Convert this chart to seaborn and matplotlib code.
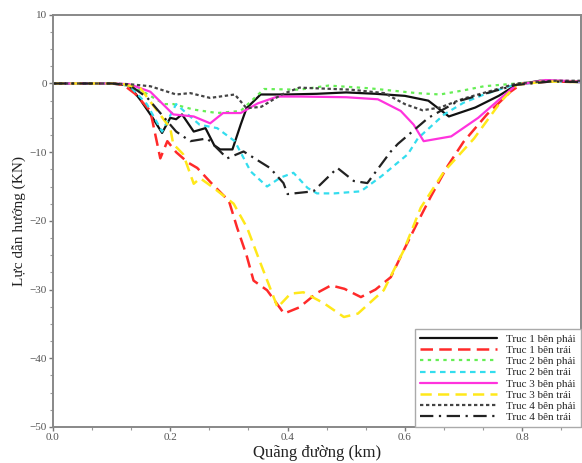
import matplotlib
matplotlib.use("Agg")
import matplotlib.pyplot as plt
import numpy as np
import pandas as pd
import seaborn as sns
from matplotlib.ticker import MultipleLocator

# Truc 1 ben phai (black solid)
x1 = [0, 0.05, 0.10, 0.13, 0.15, 0.17, 0.186, 0.20, 0.21, 0.22, 0.24, 0.26, 0.275, 0.285, 0.306,
      0.32, 0.33, 0.354, 0.40, 0.45, 0.50, 0.55, 0.60, 0.64, 0.675, 0.72, 0.76, 0.79, 0.83, 0.87, 0.9]
y1 = [0, 0, 0, -0.3, -2.5, -5, -7.2, -5, -5.2, -4.5, -7, -6.5, -9, -9.6, -9.6,
      -6, -3.6, -1.6, -1.6, -1.5, -1.3, -1.5, -1.8, -2.5, -4.8, -3.5, -1.8, -0.2, 0.4, 0.3, 0.3]
# Truc 1 ben trai (red dashed)
x2 = [0, 0.05, 0.10, 0.12, 0.14, 0.166, 0.183, 0.195, 0.21, 0.23, 0.246, 0.27, 0.30, 0.314, 0.33,
      0.342, 0.365, 0.394, 0.42, 0.45, 0.474, 0.497, 0.525, 0.55, 0.576, 0.598, 0.62, 0.644, 0.673,
      0.70, 0.74, 0.78, 0.80, 0.85, 0.9]
y2 = [0, 0, 0, -0.2, -1.5, -4, -10.9, -8.4, -10, -11.5, -12.3, -14.5, -17.1, -21, -25,
      -28.7, -30.1, -33.5, -32.6, -30.5, -29.4, -29.9, -31.1, -30, -28.2, -24.3, -20.5, -16.5, -12,
      -8.5, -4.5, -1.2, 0, 0.3, 0.2]
# Truc 2 ben phai (green dotted)
x3 = [0, 0.10, 0.13, 0.16, 0.19, 0.205, 0.24, 0.28, 0.32, 0.36, 0.42, 0.47, 0.54, 0.62, 0.66,
      0.70, 0.735, 0.79, 0.85, 0.9]
y3 = [0, 0, -0.2, -1.5, -3, -3, -3.8, -4.3, -4, -0.8, -0.9, -0.3, -0.7, -1.4, -1.6,
      -1.0, -0.4, 0, 0.4, 0.3]
# Truc 2 ben trai (cyan)
x4 = [0, 0.10, 0.13, 0.16, 0.186, 0.21, 0.25, 0.28, 0.31, 0.337, 0.365, 0.388, 0.41, 0.434, 0.45,
      0.48, 0.51, 0.525, 0.56, 0.605, 0.622, 0.667, 0.70, 0.735, 0.786, 0.84, 0.9]
y4 = [0, 0, -0.3, -3, -7, -3, -6, -6.5, -8.4, -12.8, -15, -13.7, -13, -15.2, -16,
      -16, -15.8, -15.7, -13.5, -10.3, -8, -4.5, -2.8, -1.6, -0.2, 0.3, 0.2]
# Truc 3 ben phai (magenta solid)
x5 = [0, 0.10, 0.13, 0.166, 0.205, 0.24, 0.268, 0.29, 0.32, 0.349, 0.383, 0.422, 0.50, 0.554,
      0.593, 0.615, 0.632, 0.679, 0.725, 0.764, 0.79, 0.84, 0.9]
y5 = [0, 0, -0.1, -1.2, -4.5, -4.8, -5.8, -4.3, -4.3, -2.9, -1.9, -1.9, -2.0, -2.3,
      -4, -6, -8.4, -7.7, -5, -2.1, -0.2, 0.5, 0.3]
# Truc 3 ben trai (yellow dashed)
x6 = [0, 0.10, 0.12, 0.149, 0.178, 0.20, 0.205, 0.222, 0.24, 0.251, 0.274, 0.308, 0.331, 0.354,
      0.383, 0.405, 0.427, 0.462, 0.496, 0.52, 0.564, 0.598, 0.627, 0.667, 0.718, 0.764, 0.79,
      0.84, 0.9]
y6 = [0, 0, -0.1, -0.7, -4, -6.5, -8.8, -10.3, -14.6, -13.8, -15.2, -17.5, -21, -26.2,
      -32.6, -30.6, -30.4, -32, -34, -33.5, -30.1, -24.3, -18.1, -12.8, -8, -2.6, -0.2,
      0.3, 0.2]
# Truc 4 ben phai (dark dotted)
x7 = [0, 0.10, 0.13, 0.166, 0.21, 0.234, 0.268, 0.31, 0.33, 0.355, 0.39, 0.42, 0.508, 0.565,
      0.60, 0.63, 0.66, 0.70, 0.75, 0.79, 0.85, 0.9]
y7 = [0, 0, -0.1, -0.4, -1.6, -1.4, -2.1, -1.6, -3.6, -3.4, -1.6, -0.6, -0.9, -1.4,
      -3.0, -3.9, -3.5, -2.2, -1.0, 0, 0.4, 0.4]
# Truc 4 ben trai (black dash-dot)
x8 = [0, 0.10, 0.13, 0.16, 0.195, 0.21, 0.234, 0.263, 0.297, 0.325, 0.37, 0.393, 0.40, 0.444,
      0.485, 0.513, 0.536, 0.576, 0.588, 0.64, 0.69, 0.74, 0.79, 0.85, 0.9]
y8 = [0, 0, -0.2, -2, -5.5, -7, -8.4, -8, -10.9, -9.9, -12.3, -14.5, -16.1, -15.7,
      -12.3, -14.2, -14.5, -9.9, -8.8, -5, -2.6, -1.4, -0.2, 0.3, 0.2]

labels = ["Truc 1 bên phải", "Truc 1 bên trái", "Truc 2 bên phải", "Truc 2 bên trái",
          "Truc 3 bên phải", "Truc 3 bên trái", "Truc 4 bên phải", "Truc 4 bên trái"]
xs = [x1, x2, x3, x4, x5, x6, x7, x8]
ys = [y1, y2, y3, y4, y5, y6, y7, y8]

colors = ["#111111", "#ff2a2a", "#66ee55", "#33ddee", "#ff33dd", "#ffe81a", "#444444", "#222222"]
dashes = ["-", (0, (5, 2.5)), (0, (1.5, 2)), (0, (2.5, 2)), "-", (0, (4.5, 2.5)),
          (0, (1.5, 1.2)), (0, (6, 2.5, 1, 2.5))]
widths = [1.6, 1.8, 1.6, 1.6, 1.6, 1.8, 1.6, 1.6]

sns.set_style("white")
plt.rcParams['font.family'] = ['Liberation Serif', 'DejaVu Serif']

fig = plt.figure(figsize=(5.82, 4.63), dpi=100)
ax = fig.add_axes([0.091, 0.078, 0.907, 0.89])

for i in range(8):
    df = pd.DataFrame({'x': xs[i], 'y': ys[i]})
    sns.lineplot(data=df, x='x', y='y', ax=ax, color=colors[i], linestyle=dashes[i],
                 linewidth=widths[i], label=labels[i], sort=False)

ax.set_xlim(0, 0.9)
ax.set_ylim(-50, 10)
ax.set_xticks([0, 0.2, 0.4, 0.6, 0.8])
ax.set_xticklabels(["0.0", "0.2", "0.4", "0.6", "0.8"])
ax.set_yticks([10, 0, -10, -20, -30, -40, -50])
ax.xaxis.set_minor_locator(MultipleLocator(0.2 / 3))
ax.yaxis.set_minor_locator(MultipleLocator(2.5))
ax.tick_params(which='major', direction='out', length=3, width=1, color='#777777',
               labelsize=8, labelcolor='#555555', bottom=True, left=True, pad=1.5)
ax.tick_params(which='minor', direction='out', length=2, width=0.8, color='#999999',
               bottom=True, left=True)
for side in ['left', 'bottom', 'top', 'right']:
    ax.spines[side].set_color('#888888')
    ax.spines[side].set_linewidth(1.4)

ax.set_xlabel("Quãng đường (km)", fontsize=12, color='#222222', labelpad=2)
ax.set_ylabel("Lực dẫn hướng (KN)", fontsize=11, color='#222222', labelpad=2)

leg = ax.legend(loc='lower right', fontsize=8, frameon=True, fancybox=False,
                edgecolor='#aaaaaa', framealpha=1, borderaxespad=0, handlelength=7,
                handletextpad=0.8, labelspacing=0.12, borderpad=0.45)
leg.get_frame().set_linewidth(1)

fig.savefig("out.png", dpi=100)
